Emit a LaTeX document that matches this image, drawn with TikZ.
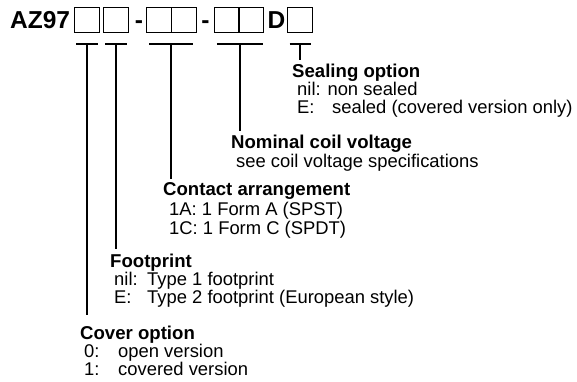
\documentclass[tikz,border=0pt]{standalone}
\usepackage{fontspec}
\setmainfont{Liberation Sans}
\usetikzlibrary{positioning}

\newcommand{\keyed}[3]{\makebox[#1][l]{#2}#3}

\tikzset{
	cell/.style={draw, line width=0.9pt, minimum width=25pt, minimum height=25pt, inner sep=0pt},
	code/.style={font=\fontsize{24.5}{25}\selectfont\bfseries, inner sep=0pt, anchor=base west},
	head/.style={font=\fontsize{18.6}{19}\selectfont\bfseries, inner sep=0pt, anchor=base west},
	item/.style={font=\fontsize{18.4}{19}\selectfont, inner sep=0pt, anchor=base west},
	bar/.style={line width=2pt},
}

\begin{document}
\begin{tikzpicture}[x=1pt, y=-1pt]
	\useasboundingbox (0,0) rectangle (577,381);

	% part number
	\node[code] (az) at (10,28.5) {AZ97};
	\node[cell] (b1) at (87,19.5) {};
	\node[cell] (b2) at (116,19.5) {};
	\node[code, anchor=base] (dash1) at (139,28.5) {-};
	\node[cell] (b3) at (158.5,19.5) {};
	\node[cell] (b4) at (183.5,19.5) {};
	\node[code, anchor=base] (dash2) at (205.5,28.5) {-};
	\node[cell] (b5) at (227,19.5) {};
	\node[cell] (b6) at (251,19.5) {};
	\node[code] (d) at (267.5,28.5) {D};
	\node[cell] (b7) at (300,19.5) {};

	% legends
	\node[head] (seal) at (292,77) {Sealing option};
	\node[item] (seal1) at (297,95) {nil: non sealed};
	\node[item] (seal2) at (297,113) {\keyed{35pt}{E:}{sealed (covered version only)}};

	\node[head] (coil) at (231,148) {Nominal coil voltage};
	\node[item] (coil1) at (236,167) {see coil voltage specifications};

	\node[head] (contact) at (163,195) {Contact arrangement};
	\node[item] (contact1) at (169,215) {1A: 1 Form A (SPST)};
	\node[item] (contact2) at (169,234) {1C: 1 Form C (SPDT)};

	\node[head] (foot) at (110,267) {Footprint};
	\node[item] (foot1) at (114,285) {\keyed{33pt}{nil:}{Type 1 footprint}};
	\node[item] (foot2) at (114,303) {\keyed{33pt}{E:}{Type 2 footprint (European style)}};

	\node[head] (cover) at (80,339) {Cover option};
	\node[item] (cover1) at (84,357) {\keyed{34pt}{0:}{open version}};
	\node[item] (cover2) at (84,375) {\keyed{34pt}{1:}{covered version}};

	% T bars
	\coordinate (t1) at (b1.south |- 0,44);
	\coordinate (t2) at (b2.south |- 0,44);
	\coordinate (t3) at (b3.south east |- 0,44);
	\coordinate (t4) at (b5.south east |- 0,44);
	\coordinate (t5) at (b7.south |- 0,44);

	\draw[bar] ([xshift=-11pt]t1) -- ([xshift=11pt]t1);
	\draw[bar] ([xshift=-11pt]t2) -- ([xshift=11pt]t2);
	\draw[bar] ([xshift=-22pt]t3) -- ([xshift=22pt]t3);
	\draw[bar] ([xshift=-23pt]t4) -- ([xshift=23pt]t4);
	\draw[bar] ([xshift=-10.5pt]t5) -- ([xshift=10.5pt]t5);

	\draw[bar, shorten >=10pt] (t1) -- (t1 |- cover.north);
	\draw[bar, shorten >=4pt] (t2) -- (t2 |- foot.north);
	\draw[bar, shorten >=3pt] (t3) -- (t3 |- contact.north);
	\draw[bar, shorten >=3pt] (t4) -- (t4 |- coil.north);
	\draw[bar, shorten >=3pt] (t5) -- (t5 |- seal.north);
\end{tikzpicture}
\end{document}
